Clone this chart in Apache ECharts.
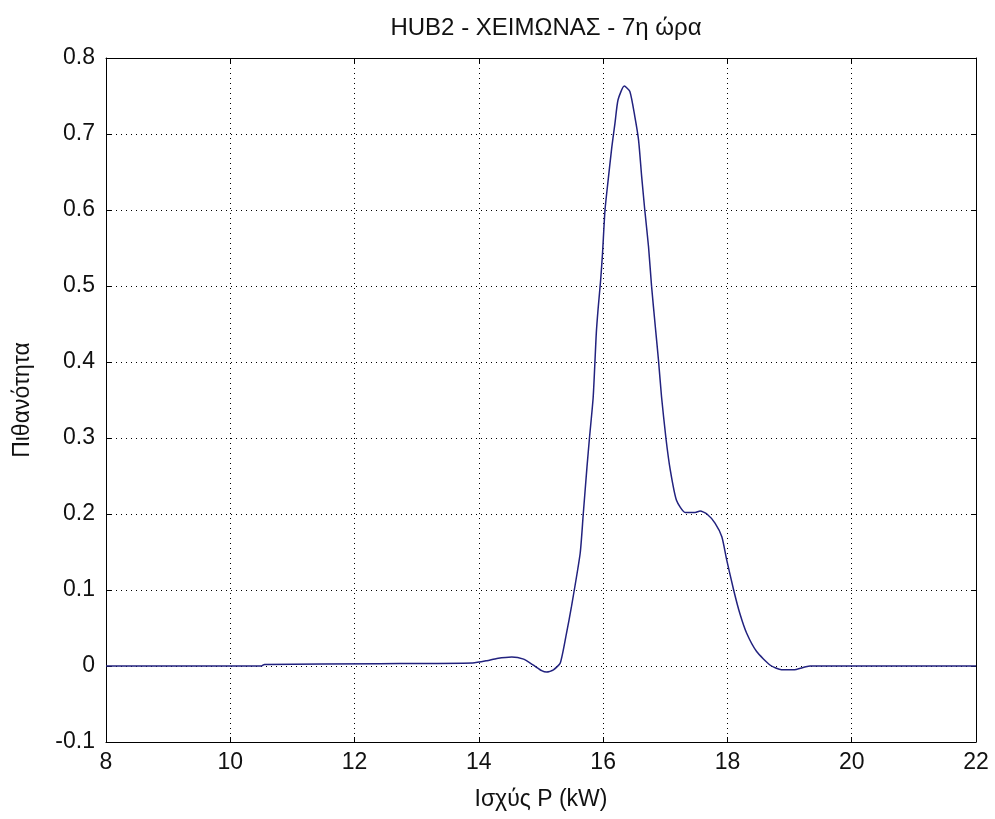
<!DOCTYPE html>
<html>
<head>
<meta charset="utf-8">
<script src="https://cdn.jsdelivr.net/npm/echarts@6/dist/echarts.min.js"></script>
<style>html,body{margin:0;padding:0;background:#fff}#c{width:995px;height:819px}</style>
</head>
<body>
<div id="c"></div>
<script>
const titleText = 'HUB2 - ΧΕΙΜΩΝΑΣ - 7η ώρα';
const xName = 'Ισχύς P (kW)';
const yName = 'Πιθανότητα';
const powerKW = [8, 10.5, 10.55, 12.4, 13.9, 14.13, 14.29, 14.53, 14.72, 14.88, 15.01, 15.09, 15.2, 15.31, 15.41, 15.49, 15.63, 15.68, 15.74, 15.78, 15.84, 15.89, 15.92, 15.96, 15.99, 16.03, 16.08, 16.14, 16.19, 16.24, 16.34, 16.43, 16.51, 16.57, 16.62, 16.67, 16.73, 16.78, 16.84, 16.89, 16.94, 17.01, 17.08, 17.18, 17.32, 17.48, 17.56, 17.67, 17.8, 17.91, 17.99, 18.1, 18.2, 18.31, 18.47, 18.69, 18.87, 19.06, 19.33, 22];
const probability = [0, 0, 0.002, 0.003, 0.004, 0.007, 0.010, 0.012, 0.009, 0.001, -0.006, -0.008, -0.005, 0.004, 0.043, 0.078, 0.148, 0.2, 0.262, 0.3, 0.354, 0.438, 0.471, 0.508, 0.543, 0.6, 0.639, 0.683, 0.714, 0.745, 0.763, 0.756, 0.723, 0.692, 0.644, 0.6, 0.552, 0.499, 0.446, 0.403, 0.354, 0.3, 0.258, 0.218, 0.202, 0.202, 0.204, 0.2, 0.188, 0.17, 0.139, 0.1, 0.069, 0.043, 0.019, 0.001, -0.005, -0.005, 0, 0];

const data = powerKW.map((x, i) => [x, probability[i]]);
const font = 'Liberation Sans, Arial, sans-serif';
const chart = echarts.init(document.getElementById('c'), null, {renderer: 'canvas'});
const gridLine = {show: true, lineStyle: {color: '#000', type: [1, 4], width: 1}};
const axLine = {show: true, onZero: false, lineStyle: {color: '#000', width: 1}};
const tick = {show: true, inside: true, length: 5, lineStyle: {color: '#000'}};
chart.setOption({
  backgroundColor: '#fff',
  animation: false,
  title: {text: titleText, left: 541, top: 11, textAlign: 'center',
    textStyle: {fontFamily: font, fontSize: 24, fontWeight: 'normal', color: '#111'}},
  grid: {left: 106, right: 19, top: 58, bottom: 77},
  xAxis: [{
    type: 'value', min: 8, max: 22, interval: 2,
    name: xName, nameLocation: 'middle', nameGap: 46,
    nameTextStyle: {fontFamily: font, fontSize: 23, color: '#111'},
    axisLine: axLine, axisTick: tick, splitLine: gridLine,
    axisLabel: {fontFamily: font, fontSize: 23, color: '#111', margin: 9}
  }, {
    type: 'value', min: 8, max: 22, interval: 2, position: 'top',
    axisLine: axLine, axisTick: tick, splitLine: {show: false}, axisLabel: {show: false}
  }],
  yAxis: [{
    type: 'value', min: -0.1, max: 0.8, interval: 0.1,
    name: yName, nameLocation: 'middle', nameGap: 72,
    nameTextStyle: {fontFamily: font, fontSize: 23, color: '#111'},
    axisLine: axLine, axisTick: tick, splitLine: gridLine,
    axisLabel: {fontFamily: font, fontSize: 23, color: '#111', margin: 11,
      formatter: v => String(parseFloat(v.toFixed(1)))}
  }, {
    type: 'value', min: -0.1, max: 0.8, interval: 0.1, position: 'right',
    axisLine: axLine, axisTick: tick, splitLine: {show: false}, axisLabel: {show: false}
  }],
  series: [{
    type: 'line', data: data, showSymbol: false, smooth: 0.2,
    lineStyle: {color: '#22227f', width: 1.5}, xAxisIndex: 0, yAxisIndex: 0
  }]
});
</script>
</body>
</html>
